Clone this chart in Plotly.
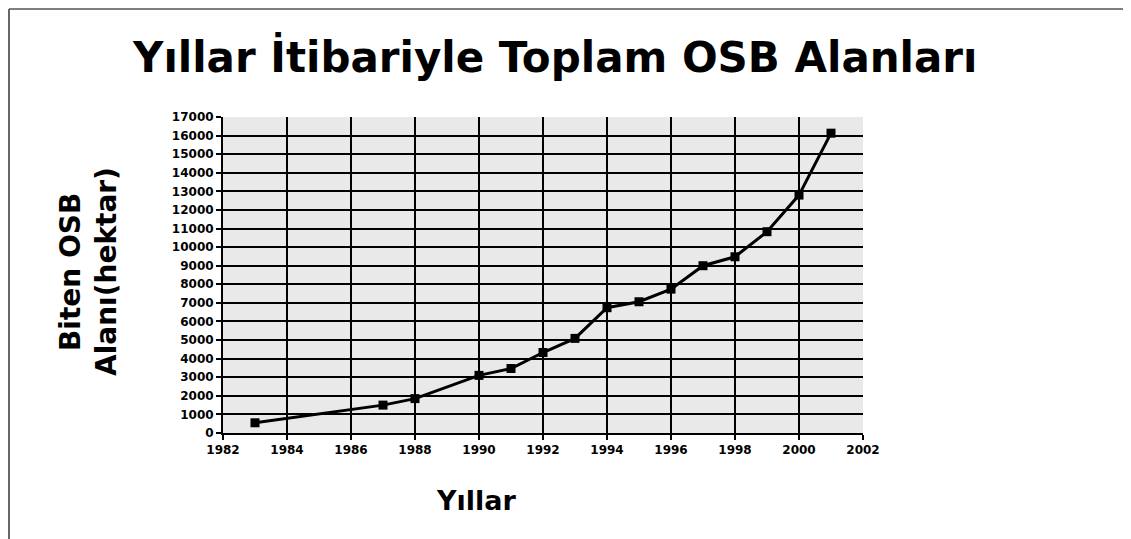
import plotly.graph_objects as go

years = [1983, 1987, 1988, 1990, 1991, 1992, 1993, 1994, 1995, 1996, 1997, 1998, 1999, 2000, 2001]
area_ha = [550, 1500, 1850, 3100, 3470, 4330, 5090, 6740, 7060, 7740, 9000, 9480, 10830, 12800, 16130]

title_text = "Yıllar İtibariyle Toplam OSB Alanları"
y_title_1 = "Biten OSB"
y_title_2 = "Alanı(hektar)"
x_title = "Yıllar"

OFF = 8  # default page body margin
W, H = 1131, 539
L, R, T, B = 223 - OFF, 268 + OFF, 117 - OFF, 106 + OFF
pw, ph = W - L - R, H - T - B

def px(xs):
    return (xs - OFF - L) / pw

def py(ys):
    return (H - B - (ys - OFF)) / ph

bold = "DejaVu Sans, Arial, sans-serif"

fig = go.Figure()
fig.add_trace(go.Scatter(
    x=years, y=area_ha, mode="lines+markers",
    line=dict(color="black", width=3),
    marker=dict(symbol="square", size=9, color="black"),
    showlegend=False,
))

fig.update_layout(
    width=W, height=H,
    margin=dict(l=L, r=R, t=T, b=B, pad=0),
    paper_bgcolor="white",
    plot_bgcolor="#e9e9e9",
    font=dict(family=bold, color="black"),
    xaxis=dict(
        range=[1982, 2002], dtick=2, tick0=1982, tickformat="d",
        showgrid=True, gridcolor="black", gridwidth=2,
        showline=True, linecolor="black", linewidth=2, mirror=False,
        ticks="outside", ticklen=5, tickcolor="black", tickwidth=1.5,
        tickfont=dict(family=bold, size=12, weight="bold", color="black"),
        zeroline=False,
    ),
    yaxis=dict(
        range=[0, 17000], dtick=1000, tick0=0, tickformat="d",
        showgrid=True, gridcolor="black", gridwidth=2,
        showline=True, linecolor="black", linewidth=2,
        ticks="outside", ticklen=5, tickcolor="black", tickwidth=1.5,
        tickfont=dict(family=bold, size=12, weight="bold", color="black"),
        zeroline=False,
    ),
    annotations=[
        dict(text=title_text, x=px(554), y=py(57), xref="paper", yref="paper",
             showarrow=False, xanchor="center", yanchor="middle",
             font=dict(family=bold, size=42, weight="bold", color="black")),
        dict(text=y_title_1, x=px(70), y=py(272), xref="paper", yref="paper",
             showarrow=False, textangle=-90, xanchor="center", yanchor="middle",
             font=dict(family=bold, size=28, weight="bold", color="black")),
        dict(text=y_title_2, x=px(106), y=py(272), xref="paper", yref="paper",
             showarrow=False, textangle=-90, xanchor="center", yanchor="middle",
             font=dict(family=bold, size=28, weight="bold", color="black")),
        dict(text=x_title, x=px(476), y=py(500), xref="paper", yref="paper",
             showarrow=False, xanchor="center", yanchor="middle",
             font=dict(family=bold, size=27, weight="bold", color="black")),
    ],
    shapes=[
        dict(type="line", xref="paper", yref="paper", x0=px(9), x1=px(9), y0=py(9), y1=py(545),
             line=dict(color="#333333", width=1.5)),
        dict(type="line", xref="paper", yref="paper", x0=px(9), x1=px(1140), y0=py(9), y1=py(9),
             line=dict(color="#555555", width=1.5)),
    ],
)

fig.write_html("out.html")
